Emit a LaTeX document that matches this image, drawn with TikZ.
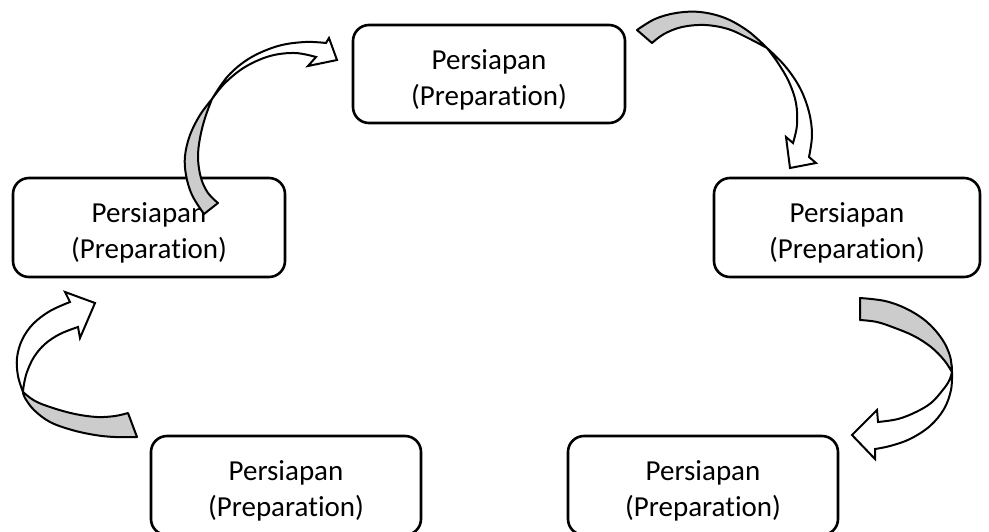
\documentclass[tikz,border=0pt]{standalone}
\usepackage{fontspec}
\setmainfont{Carlito}[Ligatures=NoCommon]
\begin{document}
\begin{tikzpicture}[x=1pt,y=-1pt,
  box/.style={draw, line width=2.6pt, rounded corners=16pt, inner sep=0pt, outer sep=0pt},
  lbl/.style={anchor=base, inner sep=0pt, font=\fontsize{29}{35}\selectfont},
  back/.style={draw, fill=gray!40, line width=2pt, line join=round},
  front/.style={draw, fill=white, line width=2pt, line join=miter},
  sm/.style={smooth, tension=0.6}]
\useasboundingbox (0,0) rectangle (989,531);

% boxes
\node[box, minimum width=272pt, minimum height=98pt] (top) at (489,74) {};
\node[lbl] (topA) at (489,69) {Persiapan};
\node[lbl] (topB) at (489,105) {(Preparation)};

\node[box, minimum width=272pt, minimum height=99pt] (left) at (149,227.5) {};
\node[lbl] (leftA) at (149,222) {Persiapan};
\node[lbl] (leftB) at (149,258) {(Preparation)};

\node[box, minimum width=266pt, minimum height=99pt] (right) at (847,227.5) {};
\node[lbl] (rightA) at (847,222) {Persiapan};
\node[lbl] (rightB) at (847,258) {(Preparation)};

\node[box, minimum width=270pt, minimum height=99pt] (bl) at (286,485.5) {};
\node[lbl] (blA) at (286,480) {Persiapan};
\node[lbl] (blB) at (286,516) {(Preparation)};

\node[box, minimum width=270pt, minimum height=99pt] (br) at (703,485.5) {};
\node[lbl] (brA) at (703,480) {Persiapan};
\node[lbl] (brB) at (703,516) {(Preparation)};

% arrow 1: left -> top
\path[back] plot[sm] coordinates {(204,214) (192,195) (186,175) (185,156) (190,135) (200,115) (212,99)}
  -- plot[sm] coordinates {(212,99) (205,118) (200,138) (198,158) (201,178) (208,193) (218,203)} -- cycle;
\path[front] plot[sm] coordinates {(212,99) (228,76) (250,58) (278,46) (305,42) (326,43)}
  -- (329,38) -- (337,60) -- (308,66)
  -- plot[sm] coordinates {(316,57) (295,53) (270,56) (245,67) (225,83) (212,99)} -- cycle;

% arrow 2: top -> right
\path[back] plot[sm] coordinates {(637,30) (655,19) (676,13) (700,12) (725,18) (748,31) (767,48)}
  -- plot[sm] coordinates {(767,48) (748,38) (728,29) (705,25) (682,27) (664,34) (652,43)} -- cycle;
\path[front] plot[sm] coordinates {(767,48) (785,66) (800,88) (809,112) (812,135) (809,157)}
  -- (816,163) -- (790,168) -- (786,137)
  -- plot[sm] coordinates {(793,143) (797,125) (796,103) (789,82) (778,63) (767,48)} -- cycle;

% arrow 3: right -> bottom right
\path[back] plot[sm] coordinates {(860,298) (885,301) (907,309) (927,322) (942,339) (950,356) (952,372)}
  -- plot[sm] coordinates {(952,372) (944,360) (931,347) (914,336) (895,328) (877,322) (860,320)} -- cycle;
\path[front] plot[sm] coordinates {(952,372) (951,390) (944,409) (930,426) (910,439) (890,446) (875,449)}
  -- (875,459) -- (852,435) -- (877,410)
  -- plot[sm] coordinates {(878,422) (898,419) (916,412) (931,403) (942,391) (949,381) (952,372)} -- cycle;

% arrow 4: bottom left -> left
\path[back] plot[sm] coordinates {(137,437) (115,437) (95,435) (72,430) (50,422) (34,410) (25,398) (23,392)}
  -- plot[sm] coordinates {(23,392) (35,401) (53,408) (75,414) (97,417) (115,416) (128,413)} -- cycle;
\path[front] plot[sm] coordinates {(23,392) (18,376) (17,358) (22,340) (33,324) (50,311) (70,302)}
  -- (65,292) -- (95,303) -- (80,338)
  -- plot[sm] coordinates {(78,327) (60,334) (45,344) (34,357) (27,372) (24,384) (23,392)} -- cycle;
\end{tikzpicture}
\end{document}
